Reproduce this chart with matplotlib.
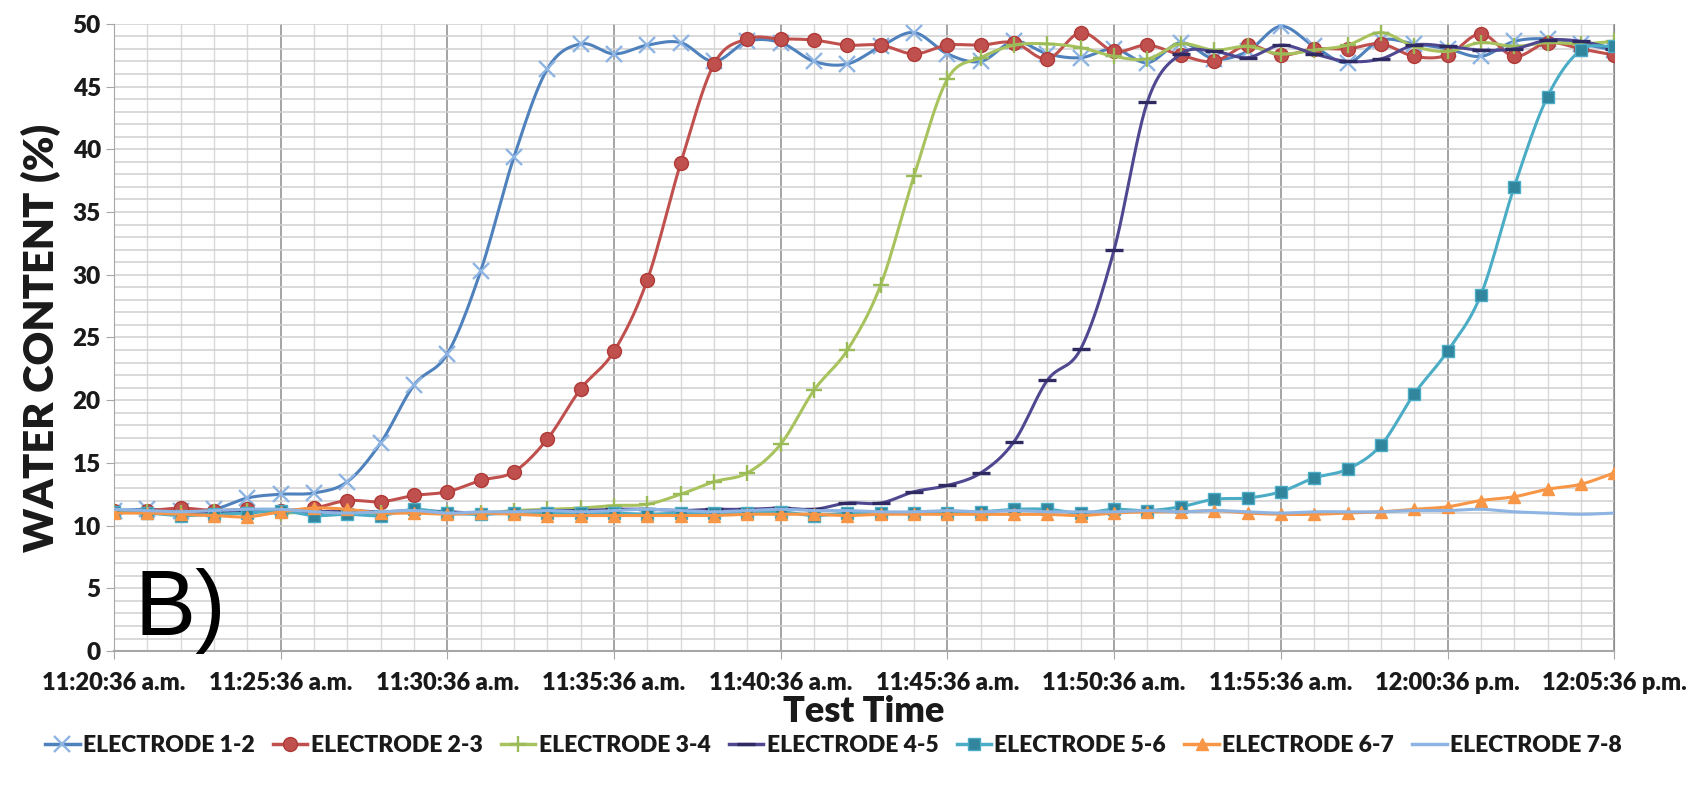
import matplotlib
matplotlib.use("Agg")
import matplotlib.pyplot as plt
from matplotlib.ticker import MultipleLocator
import numpy as np

# sample index = minutes after 11:20:36 a.m. (one reading per minute)
minutes = np.arange(46)

tick_labels = ["11:20:36 a.m.", "11:25:36 a.m.", "11:30:36 a.m.", "11:35:36 a.m.",
               "11:40:36 a.m.", "11:45:36 a.m.", "11:50:36 a.m.", "11:55:36 a.m.",
               "12:00:36 p.m.", "12:05:36 p.m."]

e12 = [11.2, 11.3, 11.2, 11.3, 12.2, 12.5, 12.6, 13.5, 16.6, 21.2, 23.7, 30.3, 39.4, 46.4,
       48.4, 47.6, 48.3, 48.5, 47.0, 48.6, 48.5, 47.0, 46.8, 48.2, 49.3, 47.6, 47.0, 48.6,
       47.6, 47.3, 48.0, 46.9, 48.5, 47.2, 47.8, 49.8, 48.2, 46.9, 48.7, 48.4, 48.0, 47.4,
       48.6, 48.8, 48.4, 47.9]
e23 = [11.2, 11.2, 11.4, 11.2, 11.3, 11.2, 11.4, 12.0, 11.9, 12.4, 12.7, 13.6, 14.3, 16.9,
       20.9, 23.9, 29.6, 38.9, 46.8, 48.8, 48.8, 48.7, 48.3, 48.3, 47.6, 48.3, 48.3, 48.5,
       47.2, 49.3, 47.8, 48.3, 47.5, 47.0, 48.3, 47.5, 48.0, 48.0, 48.4, 47.4, 47.5, 49.2,
       47.4, 48.5, 48.0, 47.5]
e34 = [11.1, 11.1, 11.0, 11.1, 11.2, 11.0, 11.1, 11.0, 11.0, 11.1, 11.0, 11.0, 11.2, 11.3,
       11.4, 11.6, 11.7, 12.5, 13.5, 14.2, 16.5, 20.8, 24.0, 29.2, 37.9, 45.6, 47.3, 48.3,
       48.4, 48.1, 47.4, 47.2, 48.4, 47.9, 48.2, 47.6, 47.9, 48.3, 49.3, 48.2, 47.8, 48.5,
       48.2, 48.5, 48.4, 48.6]
e45 = [11.1, 11.1, 11.0, 11.1, 11.1, 11.2, 11.1, 11.2, 11.1, 11.2, 11.1, 11.0, 11.1, 11.2,
       11.2, 11.3, 11.3, 11.2, 11.3, 11.3, 11.4, 11.3, 11.8, 11.8, 12.7, 13.2, 14.2, 16.7,
       21.6, 24.1, 32.0, 43.8, 47.6, 47.8, 47.3, 48.3, 47.6, 47.0, 47.2, 48.3, 48.2, 47.9,
       48.0, 48.7, 48.6, 48.0]
e56 = [11.1, 11.0, 10.8, 10.9, 11.0, 11.2, 10.8, 10.9, 10.8, 11.3, 11.0, 10.9, 11.0, 11.0,
       11.0, 11.0, 10.9, 11.0, 11.0, 11.0, 11.1, 10.8, 11.0, 11.0, 11.0, 11.0, 11.1, 11.3,
       11.3, 11.0, 11.3, 11.2, 11.5, 12.1, 12.2, 12.7, 13.8, 14.5, 16.4, 20.5, 23.9, 28.4,
       37.0, 44.2, 47.9, 48.2]
e67 = [11.0, 11.0, 10.9, 10.8, 10.7, 11.1, 11.4, 11.3, 11.0, 11.0, 10.9, 11.0, 10.9, 10.8,
       10.8, 10.8, 10.8, 10.8, 10.8, 10.9, 10.9, 10.9, 10.8, 10.9, 10.9, 10.9, 10.9, 10.9,
       10.9, 10.8, 11.0, 11.1, 11.1, 11.2, 11.0, 10.9, 10.9, 11.0, 11.1, 11.3, 11.5, 12.0,
       12.3, 12.9, 13.3, 14.2]
e78 = [11.3, 11.2, 11.1, 11.2, 11.3, 11.3, 11.1, 11.0, 11.1, 11.2, 11.0, 11.1, 11.1, 11.2,
       11.1, 11.2, 11.3, 11.2, 11.1, 11.2, 11.3, 11.2, 11.2, 11.1, 11.1, 11.2, 11.1, 11.2,
       11.1, 11.1, 11.1, 11.2, 11.1, 11.2, 11.1, 11.0, 11.1, 11.1, 11.1, 11.2, 11.2, 11.3,
       11.1, 11.0, 10.9, 11.0]

series_names = ["ELECTRODE 1-2", "ELECTRODE 2-3", "ELECTRODE 3-4", "ELECTRODE 4-5",
                "ELECTRODE 5-6", "ELECTRODE 6-7", "ELECTRODE 7-8"]


def smooth(x, y, n=12):
    # catmull-rom curve through the points, like excel's smoothed line
    x = np.asarray(x, float)
    y = np.asarray(y, float)
    px = np.concatenate([[2 * x[0] - x[1]], x, [2 * x[-1] - x[-2]]])
    py = np.concatenate([[2 * y[0] - y[1]], y, [2 * y[-1] - y[-2]]])
    t = np.linspace(0, 1, n, endpoint=False)
    xs, ys = [], []
    for i in range(1, len(px) - 2):
        for arr, out in ((px, xs), (py, ys)):
            p0, p1, p2, p3 = arr[i - 1], arr[i], arr[i + 1], arr[i + 2]
            out.extend(0.5 * (2 * p1 + (-p0 + p2) * t + (2 * p0 - 5 * p1 + 4 * p2 - p3) * t ** 2
                              + (-p0 + 3 * p1 - 3 * p2 + p3) * t ** 3))
    xs.append(x[-1])
    ys.append(y[-1])
    return np.array(xs), np.array(ys)


plt.rcParams['font.family'] = ['Lato', 'DejaVu Sans']
text_col = '#1a1a1a'

fig = plt.figure(figsize=(17.01, 7.93), dpi=100)
ax = fig.add_axes([0.067, 0.179, 0.882, 0.791])

styles = [
    dict(color='#4F81BD', marker='x', ms=11, mec='#8DB4E2', mfc='#8DB4E2', mew=1.7),
    dict(color='#C0504D', marker='o', ms=10, mec='#B03A37', mfc='#C0504D', mew=1),
    dict(color='#A8C35E', marker='+', ms=12, mec='#9BBB59', mfc='#9BBB59', mew=1.7),
    dict(color='#4F4891', marker='_', ms=13, mec='#2F2A62', mfc='#2F2A62', mew=2.4),
    dict(color='#4BACC6', marker='s', ms=9, mec='#4BACC6', mfc='#31859C', mew=1),
    dict(color='#F79646', marker='^', ms=9, mec='#F79646', mfc='#F79646', mew=1),
    dict(color='#8DB4E2', marker=None, ms=0, mec='#8DB4E2', mfc='#8DB4E2', mew=1),
]

all_series = [e12, e23, e34, e45, e56, e67, e78]
handles = []
for k, (vals, name, st) in enumerate(zip(all_series, series_names, styles)):
    sx, sy = smooth(minutes, vals)
    ax.plot(sx, sy, color=st['color'], lw=2.2, zorder=3 + k)
    if st['marker']:
        ax.plot(minutes, vals, ls='none', marker=st['marker'], ms=st['ms'],
                mec=st['mec'], mfc=st['mfc'], mew=st['mew'], zorder=3 + k)
    h, = ax.plot([], [], color=st['color'], lw=2.5, marker=st['marker'], ms=st['ms'],
                 mec=st['mec'], mfc=st['mfc'], mew=st['mew'])
    handles.append(h)

ax.set_xlim(0, 45)
ax.set_ylim(0, 50)
ax.xaxis.set_minor_locator(MultipleLocator(1))
ax.yaxis.set_major_locator(MultipleLocator(5))
ax.yaxis.set_minor_locator(MultipleLocator(1))
ax.set_xticks(np.arange(0, 46, 5))
ax.set_xticklabels(tick_labels)

ax.grid(which='major', axis='x', color='#8C8C8C', lw=1.1, zorder=0)
ax.grid(which='minor', axis='x', color='#D9D9D9', lw=1.0, zorder=0)
ax.grid(which='both', axis='y', color='#D0D0D0', lw=1.1, zorder=0)
ax.set_axisbelow(True)

ax.spines['top'].set_visible(False)
ax.spines['right'].set_color('#8C8C8C')
ax.spines['left'].set_color('#A6A6A6')
ax.spines['bottom'].set_color('#A6A6A6')
ax.spines['bottom'].set_linewidth(1.5)

ax.tick_params(axis='both', which='major', length=6, color='#A6A6A6', labelcolor=text_col)
ax.tick_params(axis='both', which='minor', length=0)
ax.tick_params(axis='x', pad=9)
for lab in ax.get_yticklabels():
    lab.set_fontsize(17.5)
    lab.set_fontweight('heavy')
for lab in ax.get_xticklabels():
    lab.set_fontsize(17)
    lab.set_fontweight('heavy')

ax.set_ylabel("WATER CONTENT (%)", fontsize=30, fontweight='heavy', color=text_col, labelpad=8)
ax.set_xlabel("Test Time", fontsize=26, fontweight='heavy', color=text_col, labelpad=1)

ax.text(0.014, 0.025, "B)", transform=ax.transAxes, fontsize=66,
        family=['Liberation Sans', 'DejaVu Sans'], color='black', va='baseline', zorder=20)

fig.legend(handles, series_names, loc='center', bbox_to_anchor=(0.49, 0.06), ncol=7,
           frameon=False, prop=dict(weight='heavy', size=16.5),
           handlelength=1.5, handletextpad=0.15, columnspacing=0.8)
for t in fig.legends[0].get_texts():
    t.set_color(text_col)

fig.savefig("out.png", dpi=100)
